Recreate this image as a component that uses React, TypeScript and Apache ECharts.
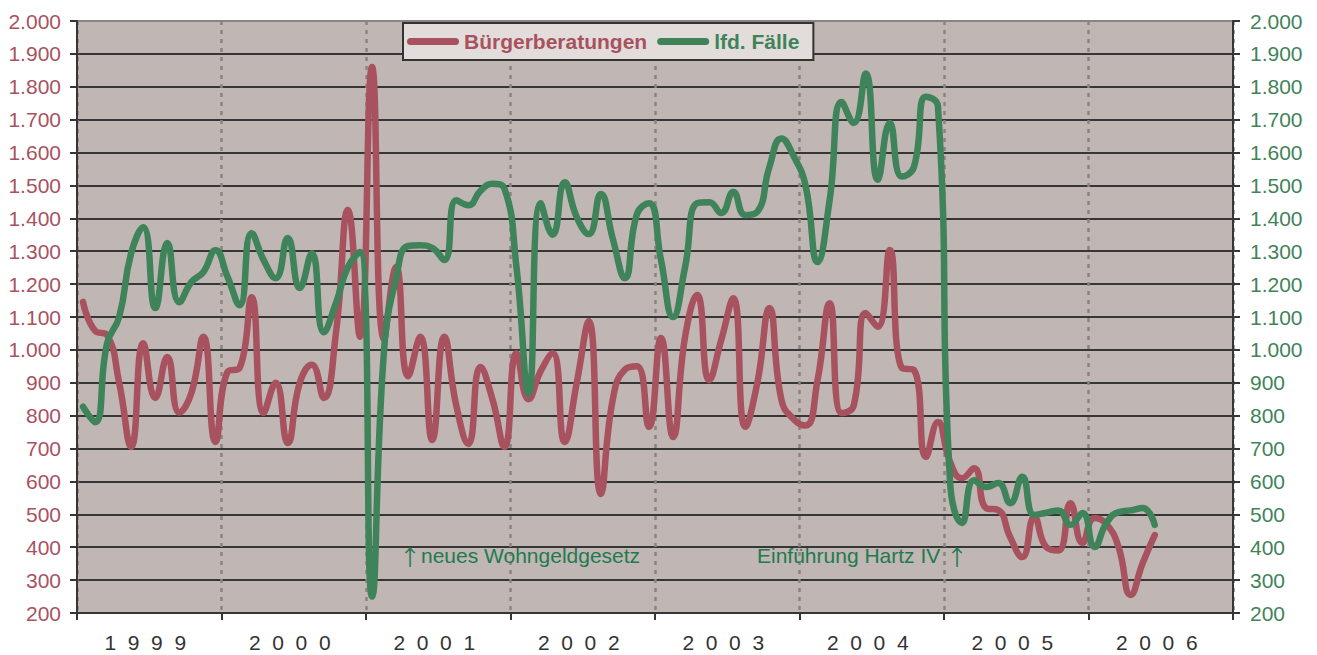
import React, { useEffect, useRef } from 'react';
import * as echarts from 'echarts';

// Years on the x axis (monthly data, Jan 1999 - Jun 2006)
const years = ['1999', '2000', '2001', '2002', '2003', '2004', '2005', '2006'];
const monthsPerYear = 12;

// Y axis scale (both axes identical)
const yMin = 200;
const yMax = 2000;
const yStep = 100;

// Bürgerberatungen (red)
const buergerberatungen = [
  1146, 1058, 1045, 900, 705, 1020, 854, 978, 810, 869, 1040, 720,
  933, 945, 1160, 808, 900, 717, 900, 955, 854, 1050, 1425, 1040,
  1860, 1033, 1252, 920, 1040, 726, 1040, 830, 714, 948, 850, 705,
  990, 850, 935, 990, 720, 900, 1088, 562, 850, 940, 950, 766,
  1036, 735, 1040, 1167, 908, 1030, 1157, 766, 900, 1127, 848, 790,
  770, 908, 1142, 808, 830, 1112, 1070, 1304, 945, 939, 674, 781,
  660, 610, 640, 519, 513, 430, 370, 492, 400, 390, 534, 413,
  489, 470, 400, 255, 352, 437,
];

// lfd. Fälle (green)
const lfdFaelle = [
  827, 780, 1020, 1100, 1294, 1373, 1127, 1325, 1145, 1206, 1237, 1303,
  1222, 1136, 1355, 1273, 1218, 1340, 1188, 1294, 1054, 1142, 1252, 1298,
  250, 1000, 1218, 1316, 1318, 1310, 1273, 1455, 1440, 1483, 1505, 1490,
  1250, 867, 1446, 1350, 1510, 1404, 1352, 1474, 1337, 1218, 1413, 1446,
  1273, 1100, 1252, 1446, 1449, 1416, 1480, 1410, 1420, 1556, 1643, 1590,
  1500, 1267, 1455, 1754, 1690, 1840, 1517, 1690, 1527, 1556, 1770, 1740,
  600, 474, 604, 583, 595, 534, 614, 498, 505, 512, 468, 504,
  401, 474, 507, 512, 519, 468,
];

const seriesNames = ['Bürgerberatungen', 'lfd. Fälle'];
const annotationLeft = 'neues Wohngeldgesetz';
const annotationRight = 'Einführung Hartz IV';
const arrow = '↑';

const RED = '#A8525F';
const GREEN = '#3F835A';
const ANNO = '#1F7A4F';
const AXIS = '#363636';
const FONT = 'Liberation Sans, Arial, sans-serif';

const fmt = (v: number) =>
  v >= 1000 ? `${Math.floor(v / 1000)}.${String(v % 1000).padStart(3, '0')}` : String(v);

const capsule = 'path://M3.5,0 L48.5,0 A3.5,3.5 0 0 1 48.5,7 L3.5,7 A3.5,3.5 0 0 1 3.5,0 Z';

export default function App() {
  const ref = useRef<HTMLDivElement>(null);

  useEffect(() => {
    if (!ref.current) return;
    const chart = echarts.init(ref.current, undefined, { renderer: 'svg' });
    const nLines = (yMax - yMin) / yStep + 1;
    const gridColors = Array.from({ length: nLines }, (_, i) => (i === nLines - 1 ? '#8C8280' : AXIS));

    const yAxisBase = {
      type: 'value',
      min: yMin,
      max: yMax,
      interval: yStep,
      axisLine: { show: true, lineStyle: { color: AXIS, width: 2 } },
      axisTick: { show: true, length: 7, lineStyle: { color: AXIS, width: 2 } },
    };

    const annoRich = {
      t: { fill: ANNO, fontSize: 21, fontFamily: FONT },
      a: { fill: ANNO, fontSize: 22, fontFamily: 'Noto Sans CJK JP' },
    };

    chart.setOption({
      animation: false,
      backgroundColor: '#ffffff',
      textStyle: { fontFamily: FONT },
      grid: {
        left: 77,
        right: 84,
        top: 21,
        bottom: 42,
        show: true,
        backgroundColor: '#C0B6B3',
        borderWidth: 0,
      },
      legend: {
        left: 403,
        top: 23,
        orient: 'horizontal',
        backgroundColor: '#E2DDDB',
        borderColor: '#333333',
        borderWidth: 2,
        borderRadius: 0,
        padding: [8, 14, 8, 4],
        itemGap: 10,
        itemWidth: 52,
        itemHeight: 7,
        data: [
          { name: seriesNames[0], icon: capsule, itemStyle: { color: RED }, textStyle: { color: RED } },
          { name: seriesNames[1], icon: capsule, itemStyle: { color: GREEN }, textStyle: { color: GREEN } },
        ],
        textStyle: { fontSize: 21, fontWeight: 'bold', fontFamily: FONT },
      },
      xAxis: [
        {
          type: 'value',
          min: 0,
          max: years.length * monthsPerYear,
          interval: monthsPerYear,
          position: 'bottom',
          axisLine: { show: true, lineStyle: { color: AXIS, width: 2 } },
          axisTick: { show: true, length: 7, lineStyle: { color: AXIS, width: 2 } },
          axisLabel: { show: false },
          splitLine: { show: true, lineStyle: { color: '#8C8280', width: 2.5, type: [4, 5] } },
        },
        {
          type: 'category',
          data: years,
          boundaryGap: true,
          position: 'bottom',
          axisLine: { show: false },
          axisTick: { show: false },
          splitLine: { show: false },
          axisLabel: {
            show: true,
            interval: 0,
            margin: 19,
            color: '#333333',
            fontSize: 21,
            fontFamily: FONT,
            padding: [0, 8, 0, 0],
            formatter: (y: string) => y.split('').join('  '),
          },
        },
      ],
      yAxis: [
        {
          ...yAxisBase,
          position: 'left',
          axisLabel: { color: RED, fontSize: 21, margin: 16, fontFamily: FONT, formatter: fmt },
          splitLine: { show: true, lineStyle: { color: gridColors, width: 2 } },
        },
        {
          ...yAxisBase,
          position: 'right',
          axisLabel: { color: GREEN, fontSize: 21, margin: 17, fontFamily: FONT, formatter: fmt },
          splitLine: { show: false },
        },
      ],
      series: [
        {
          name: seriesNames[0],
          type: 'line',
          xAxisIndex: 0,
          yAxisIndex: 0,
          smooth: 0.5,
          symbol: 'none',
          lineStyle: { color: RED, width: 6.5, cap: 'round', join: 'round' },
          itemStyle: { color: RED },
          data: buergerberatungen.map((v, i) => [i + 0.5, v]),
          z: 3,
        },
        {
          name: seriesNames[1],
          type: 'line',
          xAxisIndex: 0,
          yAxisIndex: 1,
          smooth: 0.5,
          symbol: 'none',
          lineStyle: { color: GREEN, width: 6.5, cap: 'round', join: 'round' },
          itemStyle: { color: GREEN },
          data: lfdFaelle.map((v, i) => [i + 0.5, v]),
          z: 4,
        },
      ],
      graphic: [
        {
          type: 'text',
          left: 399,
          top: 544,
          z: 10,
          style: {
            text: `{a|${arrow}}{t|${annotationLeft}}`,
            rich: annoRich,
            fill: ANNO,
          },
        },
        {
          type: 'text',
          left: 757,
          top: 544,
          z: 10,
          style: {
            text: `{t|${annotationRight} }{a|${arrow}}`,
            rich: annoRich,
            fill: ANNO,
          },
        },
      ],
    });
    return () => chart.dispose();
  }, []);

  return (
    <div
      ref={ref}
      style={{ position: 'fixed', left: 0, top: 0, width: 1317, height: 655, background: '#fff' }}
    />
  );
}
